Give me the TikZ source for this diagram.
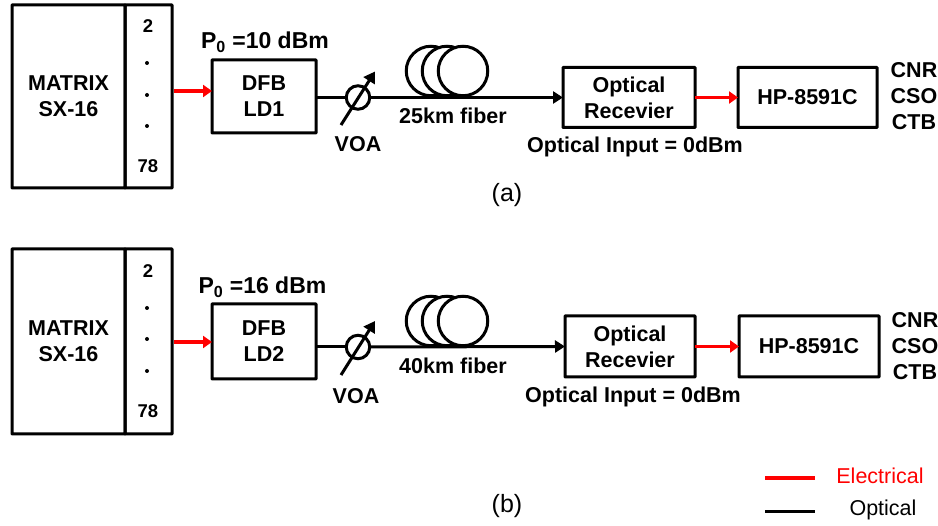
\documentclass[tikz,border=0pt]{standalone}
\usepackage{fontspec}
\setmainfont{Liberation Sans}
\usetikzlibrary{arrows.meta}
\tikzset{
  x=1pt,y=-1pt,
  every node/.style={inner sep=0pt,outer sep=0pt},
  lab/.style={font=\fontsize{21.5}{26}\selectfont\bfseries,align=center},
  powerlab/.style={font=\fontsize{23}{26}\selectfont\bfseries},
  port/.style={font=\fontsize{18.5}{22}\selectfont\bfseries},
  dotmark/.style={circle,fill=black,minimum size=4pt},
  captext/.style={font=\fontsize{25}{30}\selectfont},
  legendtext/.style={font=\fontsize{21.5}{26}\selectfont},
  box/.style={draw=black,line width=3pt,rounded corners=0.6pt,lab},
  coil/.style={circle,draw=black,fill=white,line width=3pt,minimum size=49.5pt},
  voacirc/.style={circle,draw=black,line width=3pt,minimum size=23.5pt},
  optline/.style={draw=black,line width=3pt},
  optarrow/.style={optline,-{Triangle[length=10pt,width=12pt]}},
  elecline/.style={draw=red,line width=3.4pt},
  elecarrow/.style={elecline,-{Triangle[length=9pt,width=12pt]}},
  voaarrow/.style={draw=black,line width=3pt,-{Triangle[length=11pt,width=13pt]}},
}
\begin{document}
\begin{tikzpicture}
\useasboundingbox (0,0) rectangle (938,526);
% ---------- panel (a)
\node[box,minimum width=113pt,minimum height=183pt] (matA) at (68.5,96.5) {MATRIX\\SX-16};
\node[box,minimum width=47pt,minimum height=183pt] (portA) at (148.5,96.5) {};
\node[port] (a2) at (148,26) {2};
\node[dotmark] (ad1) at (147,63) {};
\node[dotmark] (ad2) at (147,95) {};
\node[dotmark] (ad3) at (147,126) {};
\node[port] (a78) at (148,166) {78};
\node[box,minimum width=104pt,minimum height=73pt] (dfbA) at (264,96.5) {DFB\\LD1};
\node[powerlab] (pA) at (265,42) {P\textsubscript{0} =10 dBm};
\node[coil] (cA1) at (431,71) {};
\node[coil] (cA2) at (447,71) {};
\node[coil] (cA3) at (463,71) {};
\node[voacirc] (voaA) at (358,97.5) {};
\node[box,minimum width=132pt,minimum height=60pt] (recA) at (629,97.5) {Optical\\Recevier};
\node[box,minimum width=139pt,minimum height=60pt] (hpA) at (807.5,97.5) {HP-8591C};
\node[lab] (fibA) at (453,116) {25km fiber};
\node[lab] (vA) at (358,144) {VOA};
\node[lab] (inA) at (635,147) {Optical Input = 0dBm};
\node[lab] (mA) at (914,96.5) {CNR\\CSO\\CTB};
\node[captext] (capA) at (507,195) {(a)};
\coordinate (rA) at (212,91);
\draw[elecarrow] ([xshift=2pt]portA.east |- rA) -- (rA);
\draw[optline] (dfbA.east |- voaA) -- (voaA.west);
\draw[optarrow] (voaA.east) -- (recA.west);
\draw[elecarrow] (recA.east) -- (hpA.west);
\draw[voaarrow] ([shift={(-17,27.5)}]voaA.center) -- ([shift={(17,-26)}]voaA.center);
% ---------- panel (b)
\node[box,minimum width=113pt,minimum height=185pt] (matB) at (68.5,341.5) {MATRIX\\SX-16};
\node[box,minimum width=47pt,minimum height=185pt] (portB) at (148.5,341.5) {};
\node[port] (b2) at (148,271) {2};
\node[dotmark] (bd1) at (147,308) {};
\node[dotmark] (bd2) at (147,339) {};
\node[dotmark] (bd3) at (147,371) {};
\node[port] (b78) at (148,411) {78};
\node[box,minimum width=104pt,minimum height=75pt] (dfbB) at (264,341.5) {DFB\\LD2};
\node[powerlab] (pB) at (262.5,287) {P\textsubscript{0} =16 dBm};
\node[coil] (cB1) at (431,321) {};
\node[coil] (cB2) at (447,321) {};
\node[coil] (cB3) at (463,321) {};
\node[voacirc] (voaB) at (358,347) {};
\node[box,minimum width=130pt,minimum height=61pt] (recB) at (630,346.5) {Optical\\Recevier};
\node[box,minimum width=140pt,minimum height=61pt] (hpB) at (809,346.5) {HP-8591C};
\node[lab] (fibB) at (453,366) {40km fiber};
\node[lab] (vB) at (356,396) {VOA};
\node[lab] (inB) at (633,397) {Optical Input = 0dBm};
\node[lab] (mB) at (915,346) {CNR\\CSO\\CTB};
\node[captext] (capB) at (507,506) {(b)};
\coordinate (rB) at (212,342);
\draw[elecarrow] ([xshift=2pt]portB.east |- rB) -- (rB);
\draw[optline] (dfbB.east |- voaB) -- (voaB.west);
\draw[optarrow] (voaB.east) -- (recB.west);
\draw[elecarrow] (recB.east) -- (hpB.west);
\draw[voaarrow] ([shift={(-17,28)}]voaB.center) -- ([shift={(17,-26)}]voaB.center);
% ---------- legend
\coordinate (leA) at (765,478);
\coordinate (leB) at (815,478);
\coordinate (loA) at (765,512);
\coordinate (loB) at (815,512);
\draw[elecline] (leA) -- (leB);
\draw[optline] (loA) -- (loB);
\node[legendtext,text=red] (lgE) at (880,476) {Electrical};
\node[legendtext] (lgO) at (883,510) {Optical};
\end{tikzpicture}
\end{document}
